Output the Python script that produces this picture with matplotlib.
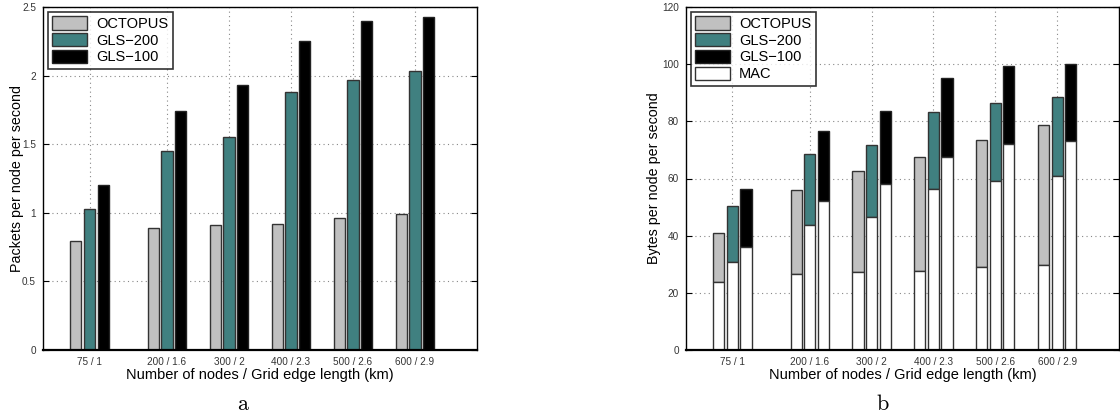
import matplotlib
matplotlib.use("Agg")
import matplotlib.pyplot as plt
import numpy as np

plt.rcParams['font.family'] = ['Liberation Sans', 'DejaVu Sans']
plt.rcParams['mathtext.fontset'] = 'cm'

# x positions (number of nodes) and tick labels
nodes = [75, 200, 300, 400, 500, 600]
tick_labels = ['75 / 1', '200 / 1.6', '300 / 2', '400 / 2.3', '500 / 2.6', '600 / 2.9']

# Chart a: packets per node per second
pkt_octopus = [0.795, 0.889, 0.911, 0.92, 0.962, 0.99]
pkt_gls200 = [1.025, 1.45, 1.553, 1.878, 1.968, 2.03]
pkt_gls100 = [1.203, 1.744, 1.93, 2.25, 2.398, 2.43]

# Chart b: bytes per node per second (total bar height and MAC part)
byte_octopus = [41.0, 56.0, 62.6, 67.5, 73.5, 78.7]
mac_octopus = [23.9, 26.7, 27.3, 27.6, 28.9, 29.6]
byte_gls200 = [50.5, 68.5, 71.8, 83.3, 86.4, 88.4]
mac_gls200 = [30.9, 43.6, 46.5, 56.2, 59.0, 60.9]
byte_gls100 = [56.3, 76.6, 83.7, 95.3, 99.4, 100.1]
mac_gls100 = [35.9, 52.1, 58.0, 67.5, 72.0, 73.0]

GRAY = '#c0c0c0'
TEAL = '#408080'
BLACK = '#000000'
EDGE = '#333333'

fig = plt.figure(figsize=(11.2, 4.17), dpi=100)
axA = fig.add_axes([43/1120, 67/417, 434/1120, 343/417])
axB = fig.add_axes([686/1120, 67/417, 433/1120, 343/417])

x = np.array(nodes, dtype=float)
w = 18
off = 22


def style(ax):
    ax.set_xlim(0, 700)
    ax.set_xticks(nodes)
    ax.set_xticklabels(tick_labels)
    ax.tick_params(axis='both', direction='in', length=4, width=0.8,
                   labelsize=7.2, labelcolor='#333333', top=False, right=True,
                   pad=5)
    ax.tick_params(axis='x', length=0, pad=5)
    ax.grid(True, linestyle=(0, (1, 3)), color='#888888', linewidth=0.8)
    ax.set_axisbelow(True)
    for s in ax.spines.values():
        s.set_linewidth(1.0)
    ax.spines['bottom'].set_linewidth(1.6)
    ax.set_xlabel('Number of nodes / Grid edge length (km)', fontsize=10.5, labelpad=1)


# Chart a
axA.bar(x - off, pkt_octopus, w, color=GRAY, edgecolor=EDGE, linewidth=1, label='OCTOPUS')
axA.bar(x, pkt_gls200, w, color=TEAL, edgecolor=EDGE, linewidth=1, label='GLS\u2212200')
axA.bar(x + off, pkt_gls100, w, color=BLACK, edgecolor='#222222', linewidth=1, label='GLS\u2212100')
axA.set_ylim(0, 2.5)
axA.set_yticks([0, 0.5, 1, 1.5, 2, 2.5])
axA.set_yticklabels(['0', '0.5', '1', '1.5', '2', '2.5'])
style(axA)
axA.set_ylabel('Packets per node per second', fontsize=10.3, labelpad=-1.5)
legA = axA.legend(loc='upper left', fontsize=10.5, frameon=True, fancybox=False,
                  edgecolor='black', handlelength=2.4, handleheight=1.0,
                  borderaxespad=0.35, borderpad=0.3, labelspacing=0.15,
                  handletextpad=0.6)
legA.get_frame().set_linewidth(1.2)

# Chart b
seg_oct = np.array(byte_octopus) - np.array(mac_octopus)
seg_200 = np.array(byte_gls200) - np.array(mac_gls200)
seg_100 = np.array(byte_gls100) - np.array(mac_gls100)
axB.bar(x - off, seg_oct, w, bottom=mac_octopus, color=GRAY, edgecolor=EDGE, linewidth=1, label='OCTOPUS')
axB.bar(x, seg_200, w, bottom=mac_gls200, color=TEAL, edgecolor=EDGE, linewidth=1, label='GLS\u2212200')
axB.bar(x + off, seg_100, w, bottom=mac_gls100, color=BLACK, edgecolor='#222222', linewidth=1, label='GLS\u2212100')
axB.bar(x - off, mac_octopus, w, color='white', edgecolor=EDGE, linewidth=1, label='MAC')
axB.bar(x, mac_gls200, w, color='white', edgecolor=EDGE, linewidth=1)
axB.bar(x + off, mac_gls100, w, color='white', edgecolor=EDGE, linewidth=1)
axB.set_ylim(0, 120)
axB.set_yticks([0, 20, 40, 60, 80, 100, 120])
style(axB)
axB.set_ylabel('Bytes per node per second', fontsize=10.3, labelpad=0.5)
legB = axB.legend(loc='upper left', fontsize=10.5, frameon=True, fancybox=False,
                  edgecolor='black', handlelength=2.4, handleheight=1.0,
                  borderaxespad=0.35, borderpad=0.3, labelspacing=0.15,
                  handletextpad=0.6)
legB.get_frame().set_linewidth(1.2)

# captions
fig.text(243/1120, 1 - 405/417, r'$\mathrm{a}$', ha='center', va='center', fontsize=16)
fig.text(883/1120, 1 - 405/417, r'$\mathrm{b}$', ha='center', va='center', fontsize=16)

fig.savefig('out.png', dpi=100)
